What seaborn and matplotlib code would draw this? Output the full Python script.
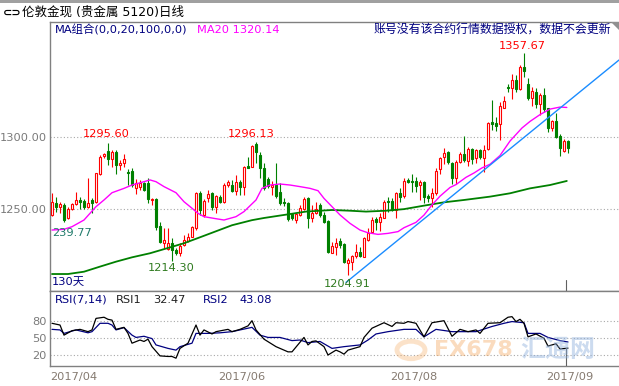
import numpy as np
import pandas as pd
import matplotlib
matplotlib.use("Agg")
import matplotlib.pyplot as plt
from matplotlib.patches import Polygon, Circle
import seaborn as sns

# ---------------- data ----------------
opens = [1246.1, 1254.6, 1251.8, 1253.0, 1243.8, 1250.0, 1253.6, 1256.4, 1255.7, 1251.3,
         1256.4, 1255.2, 1274.3, 1286.7, 1290.4, 1284.4, 1289.7, 1280.5, 1281.7, 1275.9,
         1276.6, 1264.4, 1265.6, 1268.3, 1268.3, 1256.4, 1257.1, 1238.5, 1227.0, 1222.4,
         1226.5, 1222.0, 1220.1, 1225.4, 1228.4, 1231.1, 1236.9, 1261.4, 1246.1, 1257.5,
         1261.0, 1251.3, 1258.7, 1255.2, 1266.7, 1266.7, 1262.8, 1269.0, 1265.6, 1279.8,
         1279.4, 1295.0, 1287.4, 1278.2, 1270.6, 1265.6, 1266.7, 1262.1, 1255.2, 1254.1,
         1246.5, 1242.6, 1246.1, 1250.0, 1257.5, 1243.8, 1247.2, 1253.0, 1246.1, 1242.2,
         1220.1, 1224.3, 1228.4, 1226.1, 1213.2, 1213.9, 1217.8, 1220.8, 1217.4, 1228.8,
         1234.6, 1243.3, 1241.5, 1244.3, 1255.7, 1255.7, 1249.5, 1261.0, 1259.4, 1270.2,
         1269.5, 1269.5, 1266.7, 1269.0, 1259.4, 1257.5, 1261.0, 1277.7, 1286.2, 1289.7,
         1281.6, 1271.3, 1282.8, 1287.8, 1283.2, 1291.5, 1285.1, 1290.8, 1285.6, 1291.5,
         1309.9, 1309.2, 1308.5, 1320.0, 1334.4, 1333.3, 1339.0, 1332.8, 1348.2, 1336.0,
         1326.9, 1331.0, 1322.3, 1328.7, 1319.5, 1305.8, 1310.8, 1300.7, 1290.1, 1297.0]
highs = [1261.4, 1258.7, 1255.2, 1254.1, 1251.3, 1254.6, 1262.1, 1258.2, 1256.9, 1271.3,
         1257.5, 1274.8, 1287.4, 1289.0, 1295.6, 1290.8, 1290.8, 1283.9, 1288.1, 1277.5,
         1278.2, 1270.6, 1270.2, 1269.0, 1271.3, 1257.5, 1257.5, 1241.5, 1236.9, 1236.9,
         1230.0, 1223.1, 1226.5, 1232.3, 1233.4, 1238.5, 1262.1, 1262.8, 1256.9, 1263.3,
         1262.1, 1259.8, 1259.8, 1268.3, 1270.2, 1270.2, 1273.6, 1270.2, 1279.8, 1286.2,
         1294.3, 1296.13, 1289.7, 1281.7, 1272.0, 1269.7, 1281.7, 1267.9, 1257.5, 1255.2,
         1247.7, 1247.7, 1253.0, 1258.7, 1258.7, 1253.0, 1255.2, 1254.1, 1248.4, 1242.6,
         1227.7, 1230.0, 1230.0, 1226.5, 1216.2, 1218.5, 1226.1, 1224.3, 1231.1, 1236.9,
         1245.0, 1245.0, 1247.3, 1256.4, 1258.7, 1257.5, 1262.1, 1264.9, 1271.3, 1271.3,
         1274.1, 1272.4, 1270.2, 1269.5, 1260.3, 1264.4, 1278.2, 1286.2, 1292.0, 1290.1,
         1282.8, 1283.9, 1289.7, 1300.7, 1293.1, 1292.4, 1291.5, 1291.5, 1294.3, 1310.3,
         1325.3, 1313.8, 1323.7, 1328.3, 1336.0, 1342.9, 1342.5, 1349.4, 1357.67, 1340.2,
         1334.4, 1333.8, 1329.9, 1333.8, 1320.0, 1311.5, 1316.1, 1301.6, 1298.4, 1297.7]
lows = [1245.6, 1248.4, 1247.2, 1241.5, 1243.1, 1249.5, 1253.0, 1250.0, 1250.0, 1250.7,
        1247.2, 1254.1, 1273.6, 1285.1, 1280.5, 1279.4, 1274.3, 1277.1, 1279.4, 1266.7,
        1265.6, 1260.5, 1263.3, 1262.8, 1254.1, 1253.0, 1235.7, 1226.5, 1223.1, 1222.0,
        1214.3, 1218.5, 1217.8, 1224.7, 1227.7, 1230.7, 1235.7, 1246.1, 1244.9, 1255.2,
        1249.5, 1247.7, 1254.1, 1254.1, 1265.6, 1262.1, 1259.8, 1259.8, 1259.8, 1278.2,
        1278.9, 1281.7, 1271.3, 1263.3, 1264.4, 1259.8, 1257.5, 1253.0, 1252.3, 1242.2,
        1242.6, 1240.8, 1245.4, 1249.5, 1236.9, 1241.5, 1246.8, 1244.9, 1240.3, 1219.7,
        1219.7, 1218.5, 1223.1, 1212.8, 1204.91, 1208.2, 1216.2, 1216.9, 1216.9, 1228.4,
        1234.2, 1235.7, 1235.1, 1243.8, 1248.4, 1248.8, 1243.8, 1255.2, 1257.5, 1267.9,
        1262.1, 1262.1, 1256.4, 1254.1, 1254.8, 1251.8, 1259.8, 1274.1, 1280.9, 1280.9,
        1267.2, 1267.2, 1281.6, 1282.8, 1280.0, 1280.9, 1281.6, 1284.6, 1275.9, 1290.8,
        1304.6, 1303.9, 1297.7, 1319.5, 1331.0, 1326.0, 1331.0, 1332.2, 1341.3, 1325.3,
        1321.4, 1319.5, 1314.9, 1317.2, 1303.0, 1303.9, 1299.3, 1286.9, 1289.2, 1288.5]
closes = [1255.2, 1251.3, 1253.6, 1242.6, 1250.0, 1253.6, 1256.4, 1255.2, 1251.8, 1254.6,
          1254.6, 1274.8, 1286.2, 1288.1, 1284.4, 1289.7, 1280.5, 1282.1, 1284.4, 1274.8,
          1266.7, 1268.3, 1267.9, 1263.3, 1256.9, 1256.9, 1238.0, 1227.7, 1228.8, 1226.5,
          1222.0, 1219.7, 1224.7, 1228.8, 1230.7, 1237.6, 1261.0, 1249.5, 1255.9, 1260.5,
          1251.3, 1259.2, 1255.2, 1266.7, 1269.0, 1262.8, 1269.0, 1265.6, 1279.4, 1278.7,
          1293.6, 1289.2, 1278.2, 1264.4, 1266.0, 1266.7, 1259.2, 1254.1, 1254.1, 1243.1,
          1243.8, 1246.5, 1250.7, 1256.9, 1243.8, 1247.7, 1250.0, 1246.1, 1241.5, 1220.8,
          1224.7, 1227.0, 1225.4, 1213.9, 1215.1, 1217.8, 1220.8, 1217.8, 1230.0, 1233.9,
          1242.6, 1241.5, 1245.0, 1255.2, 1254.8, 1249.5, 1261.0, 1258.7, 1269.5, 1269.0,
          1268.6, 1266.3, 1269.0, 1258.7, 1258.0, 1261.0, 1276.4, 1285.6, 1288.5, 1282.3,
          1271.3, 1282.8, 1287.8, 1283.9, 1291.5, 1284.6, 1290.8, 1286.2, 1290.8, 1309.2,
          1309.0, 1307.6, 1321.4, 1324.6, 1333.3, 1339.0, 1332.8, 1348.2, 1345.2, 1326.4,
          1331.5, 1322.3, 1328.7, 1319.1, 1306.2, 1310.8, 1300.0, 1292.0, 1297.0, 1292.4]

# MA20 (magenta)
ma20_idx = [0, 3, 5, 8, 9.5, 11, 13, 15, 18, 20, 23, 24.5, 26, 28, 31, 33, 35, 36.5, 38, 41,
            43, 46, 48, 51, 52.5, 54.5, 57, 59.5, 62, 64.5, 66.5, 68, 70, 72, 74.5, 77, 79,
            81.5, 84, 86.5, 88, 91, 93, 95, 97, 99.5, 101, 103.5, 105.5, 107.5, 109.5, 112,
            114.5, 117.5, 119.5, 122, 124.5, 127, 128.7]
ma20_val = [1235.7, 1236.2, 1238.0, 1242.6, 1247.2, 1251.8, 1256.4, 1261.4, 1264.4, 1266.7,
            1269.0, 1270.2, 1269.0, 1265.6, 1261.4, 1255.2, 1250.7, 1247.2, 1244.9, 1243.5,
            1242.6, 1244.9, 1248.4, 1256.4, 1264.4, 1266.7, 1267.4, 1266.7, 1265.6, 1264.4,
            1262.8, 1257.5, 1251.8, 1246.1, 1240.3, 1235.7, 1233.8, 1232.7, 1233.4, 1234.6,
            1237.3, 1241.0, 1246.0, 1253.0, 1259.0, 1265.0, 1267.0, 1272.0, 1275.0, 1278.5,
            1281.0, 1287.0, 1297.0, 1306.0, 1310.5, 1315.2, 1319.0, 1320.4, 1320.14]

# MA100 (green)
ma100_idx = [0, 4, 8, 12, 16, 20, 24.5, 28.7, 33, 37, 45, 50, 53, 58.5, 63.5, 70, 74.5, 78.5,
             83.5, 88, 93, 98, 103, 109.5, 114.5, 119.5, 124.5, 128.7]
ma100_val = [1205.4, 1205.4, 1207.0, 1210.5, 1213.9, 1216.9, 1219.7, 1223.1, 1226.6, 1230.7,
             1239.0, 1242.5, 1244.0, 1246.3, 1248.4, 1249.5, 1249.0, 1248.4, 1249.0, 1250.1,
             1252.5, 1254.8, 1256.4, 1258.7, 1261.0, 1264.4, 1266.7, 1269.5]

# trend line endpoints (candle index, price)
trend_idx = [73.5, 141.75]
trend_val = [1199.6, 1352.8]

# RSI lines
rsi1_idx = [0, 2, 3, 5, 7, 9, 10, 11, 13, 14, 15, 16, 18, 19, 20, 22, 23, 24, 25, 27, 29, 30,
            31, 32, 34, 36, 37, 38, 40, 41, 44, 45, 47, 49, 50, 51, 53, 56, 59, 60, 63, 64, 65,
            66, 68, 69, 71, 72, 73, 74, 77, 78, 80, 83, 85, 86, 88, 89, 91, 93, 95, 98, 100,
            102, 104, 106, 107, 109, 112, 114, 115, 116, 117, 118, 119, 121, 123, 124, 126,
            127, 129]
rsi1_val = [75.5, 72.5, 55, 62.7, 65, 61, 64, 84, 86, 82.4, 81, 65, 68.5, 58, 41, 46.5, 44, 48,
            35, 19, 18, 18, 15, 32, 41, 72.5, 55, 64, 57, 61, 65, 61, 65, 71, 80, 64, 48, 35,
            26, 26, 51, 38, 44, 45, 35, 20.5, 29, 26, 22, 29, 35, 51, 67, 76.5, 70, 76.5,
            75.5, 78.5, 75.5, 52, 76.5, 80, 53, 65, 61, 64, 58, 75.5, 76.5, 86, 87, 78.5,
            82.4, 75.5, 52, 57, 49.5, 36, 40, 31, 32.47]
rsi2_idx = [0, 2, 3, 6, 9, 10, 12, 14, 15, 16, 18, 20, 21, 23, 25, 26, 29, 31, 32, 35, 36, 39,
            42, 45, 49, 50, 52, 54, 57, 60, 62, 64, 67, 70, 73, 77, 79, 81, 84, 88, 91, 93,
            96, 100, 103, 106, 110, 113, 115, 118, 119, 122, 124, 127, 129]
rsi2_val = [65, 64, 58, 64, 59, 61, 75.5, 75.5, 72.5, 64, 68, 55, 51, 53, 49, 38, 32, 29, 35,
            41, 58, 58, 59, 61, 67, 68.5, 55, 51, 51, 45.5, 46.5, 42, 44, 32, 35, 38, 46.5,
            57, 61, 65, 65, 52, 65, 61, 61, 61, 70, 75.5, 78.5, 76.5, 58, 58, 51, 45.5, 43.08]

date_labels = ["2017/04", "2017/06", "2017/08", "2017/09"]
date_pos = [-0.5, 41.5, 84.5, 123.5]

price_ticks = [1250, 1300]
rsi_ticks = [20, 50, 80]

# ---------------- style ----------------
sns.set_style("white")
plt.rcParams['font.family'] = ['DejaVu Sans', 'Noto Sans CJK SC']
plt.rcParams['axes.unicode_minus'] = False

W, H = 619, 386
fig = plt.figure(figsize=(W / 100, H / 100), dpi=100)
fig.patch.set_facecolor('white')


def fx(px):
    return px / W


def fy(py):
    return 1 - py / H


RED = '#ff0000'
GREEN = '#008000'
GRAY = '#808080'
NAVY = '#000080'

ax = fig.add_axes([fx(50), fy(291), fx(569), (291 - 22) / H])
ax2 = fig.add_axes([fx(50), fy(366), fx(569), (366 - 291) / H])

for a in (ax, ax2):
    a.set_facecolor('white')
    a.set_xlim(-0.5, 141.75)
    for s in ['left', 'top', 'bottom']:
        a.spines[s].set_color(GRAY)
        a.spines[s].set_linewidth(1.0)
        a.spines[s].set_visible(True)
    a.spines['right'].set_visible(False)
    a.grid(False)

ax.set_ylim(1193.7, 1379.0)
ax2.set_ylim(1.46, 131.5)

# gridlines
for v in price_ticks:
    ax.axhline(v, color='#a8a8a8', lw=0.8, ls=(0, (1, 2)), zorder=1)
for v in rsi_ticks:
    ax2.axhline(v, color='#a8a8a8', lw=0.8, ls=(0, (1, 2)), zorder=1)

# candles
df = pd.DataFrame({'o': opens, 'h': highs, 'l': lows, 'c': closes})
df['x'] = np.arange(len(df))
df['up'] = df['c'] >= df['o']
cols = np.where(df['up'], RED, GREEN)
ax.vlines(df['x'], df['l'], df['h'], colors=cols, lw=0.8, zorder=2)
body_h = np.maximum((df['c'] - df['o']).abs(), 0.35)
body_b = np.minimum(df['o'], df['c'])
ax.bar(df['x'], body_h, bottom=body_b, width=0.72,
       color=np.where(df['up'], 'white', GREEN), edgecolor=cols, linewidth=0.8, zorder=3)

# moving averages and trend line
sns.lineplot(x=ma100_idx, y=ma100_val, ax=ax, color=GREEN, lw=1.3, zorder=4,
             estimator=None, sort=False)
sns.lineplot(x=ma20_idx, y=ma20_val, ax=ax, color='#ff00ff', lw=1.0, zorder=5,
             estimator=None, sort=False)
sns.lineplot(x=trend_idx, y=trend_val, ax=ax, color='#1a8cff', lw=1.0, zorder=5,
             estimator=None, sort=False)

# RSI
sns.lineplot(x=rsi2_idx, y=rsi2_val, ax=ax2, color=NAVY, lw=0.9, zorder=3,
             estimator=None, sort=False)
sns.lineplot(x=rsi1_idx, y=rsi1_val, ax=ax2, color='black', lw=0.9, zorder=4,
             estimator=None, sort=False)

# cursor line
ax.plot([128.5, 128.5], [1193.7, 1201.2], color='#606060', lw=0.8, zorder=6)
ax2.plot([128.5, 128.5], [1.46, 32.7], color='#606060', lw=0.8, zorder=6)

# ticks
ax.set_xticks([])
ax.set_yticks(price_ticks)
ax.set_yticklabels([f"{v:.2f}" for v in price_ticks])
ax.tick_params(axis='y', length=0, pad=2.5, labelsize=8.2, labelcolor='#7a7a7a')
ax2.set_yticks(rsi_ticks)
ax2.set_yticklabels([str(v) for v in rsi_ticks])
ax2.tick_params(axis='y', length=0, pad=2.5, labelsize=8.2, labelcolor='#7a7a7a')
ax2.set_xticks(date_pos)
ax2.set_xticklabels(date_labels)
for t in ax2.get_xticklabels():
    t.set_ha('left')
ax2.tick_params(axis='x', length=0, pad=4, labelsize=8.2, labelcolor='#857a70')
for a in (ax, ax2):
    a.set_xlabel('')
    a.set_ylabel('')

# price annotations
ax.text(13.5, 1301.9, "1295.60", color=RED, fontsize=8.2, ha='center', va='center', zorder=7)
ax.text(49.75, 1301.9, "1296.13", color=RED, fontsize=8.2, ha='center', va='center', zorder=7)
ax.text(117.5, 1362.5, "1357.67", color=RED, fontsize=8.2, ha='center', va='center', zorder=7)
ax.text(29.75, 1209.6, "1214.30", color='#2e7a1e', fontsize=8.2, ha='center', va='center', zorder=7)
ax.text(73.75, 1198.6, "1204.91", color='#2e7a1e', fontsize=8.2, ha='center', va='center', zorder=7)
ax.text(0.0, 1233.7, "239.77", color='#1f7a6a', fontsize=8.2, ha='left', va='center', zorder=7)
ax.text(0.0, 1199.8, "130天", color=NAVY, fontsize=8.2, ha='left', va='center', zorder=7)

# legends in panels
fig.text(fx(55), fy(30), "MA组合(0,0,20,100,0,0)", color=NAVY, fontsize=8.2, va='center')
fig.text(fx(197), fy(30), "MA20 1320.14", color='#ff00ff', fontsize=8.2, va='center')
fig.text(fx(611), fy(30), "账号没有该合约行情数据授权，数据不会更新", color=NAVY,
         fontsize=8.6, va='center', ha='right')
fig.text(fx(55), fy(300), "RSI(7,14)", color=NAVY, fontsize=8.2, va='center')
fig.text(fx(116), fy(300), "RSI1", color='#202020', fontsize=8.2, va='center')
fig.text(fx(153), fy(300), "32.47", color='#202020', fontsize=8.2, va='center')
fig.text(fx(203), fy(300), "RSI2", color=NAVY, fontsize=8.2, va='center')
fig.text(fx(240), fy(300), "43.08", color=NAVY, fontsize=8.2, va='center')

# title bar
fig.add_artist(plt.Rectangle((0, fy(2.5)), 1, 2.5 / H, transform=fig.transFigure,
                             color='#a0a0a0', lw=0))
fig.text(fx(3), fy(12.5), "⊂⊃", color='black', fontsize=8, va='center', fontweight='bold')
fig.text(fx(22), fy(12.5), "伦敦金现 (贵金属 5120)日线", color='black', fontsize=9, va='center')
fig.add_artist(Polygon([[fx(611), fy(22)], [fx(619), fy(22)], [fx(619), fy(30)]],
                       closed=True, transform=fig.transFigure, color='#909090', lw=0))

# watermark
ring = Circle((fx(411), fy(350)), 14 / W, transform=fig.transFigure, fill=False,
              edgecolor='#f5a24f', lw=3.5, alpha=0.3)
fig.add_artist(ring)
fig.text(fx(434), fy(350), "FX678", color='#f39a45', alpha=0.35, fontsize=16,
         fontweight='bold', va='center')
fig.text(fx(520), fy(350), "汇通网", color='#8fb0dc', alpha=0.45, fontsize=18,
         fontweight='bold', family=['Noto Sans CJK SC', 'DejaVu Sans'], va='center')

fig.savefig("out.png", dpi=100, facecolor='white')
